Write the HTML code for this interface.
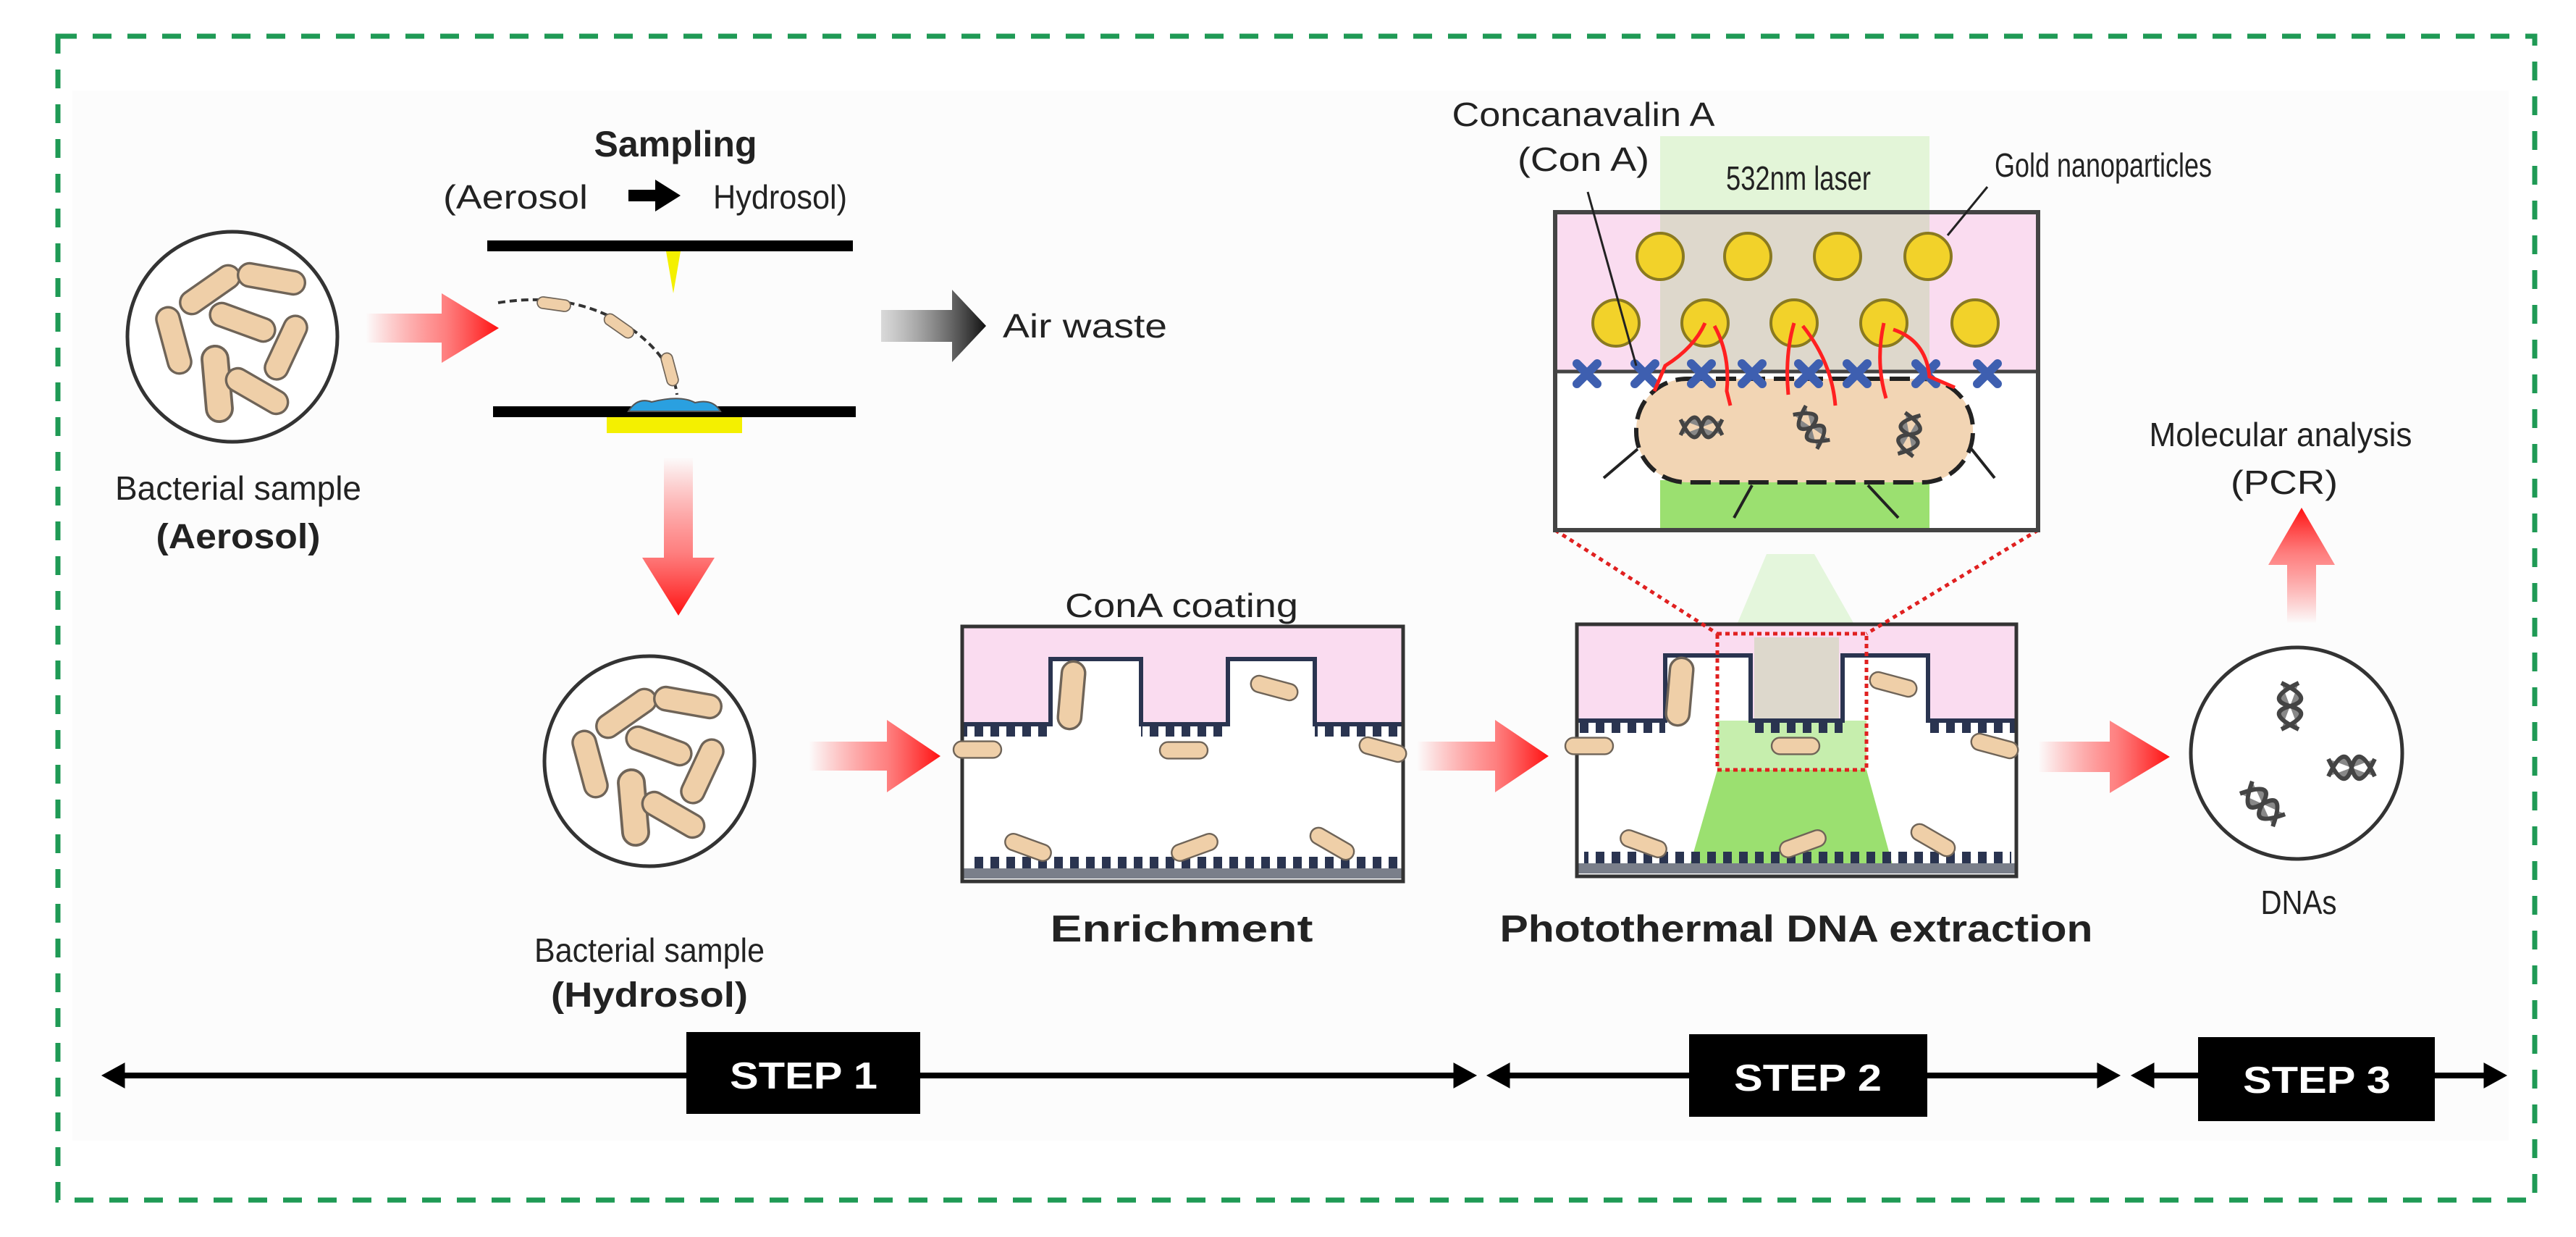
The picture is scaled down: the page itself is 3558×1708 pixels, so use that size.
<!DOCTYPE html>
<html><head><meta charset="utf-8"><style>
html,body{margin:0;padding:0;background:#fff;}
svg{display:block;}
text{font-family:"Liberation Sans",Arial,sans-serif;fill:#222;}
</style></head><body>
<svg width="3558" height="1708" viewBox="0 0 3558 1708" xmlns="http://www.w3.org/2000/svg">
<defs>
<linearGradient id="rr" x1="0" x2="1" y1="0" y2="0"><stop offset="0" stop-color="#ff2020" stop-opacity="0"/><stop offset="0.6" stop-color="#ff4a4a" stop-opacity="0.7"/><stop offset="1" stop-color="#ff1010"/></linearGradient>
<linearGradient id="rd" x1="0" x2="0" y1="0" y2="1"><stop offset="0" stop-color="#ff2020" stop-opacity="0"/><stop offset="0.6" stop-color="#ff4a4a" stop-opacity="0.7"/><stop offset="1" stop-color="#ff1010"/></linearGradient>
<linearGradient id="ru" x1="0" x2="0" y1="1" y2="0"><stop offset="0" stop-color="#ff2020" stop-opacity="0"/><stop offset="0.6" stop-color="#ff4a4a" stop-opacity="0.7"/><stop offset="1" stop-color="#ff1010"/></linearGradient>
<linearGradient id="gk" x1="0" x2="1" y1="0" y2="0"><stop offset="0" stop-color="#888" stop-opacity="0.3"/><stop offset="1" stop-color="#111"/></linearGradient>
<g id="rod"><rect x="-55" y="-19" width="110" height="38" rx="19" fill="#efcfa8" stroke="#6f6458" stroke-width="4"/></g>
<g id="dna"><path d="M-12,-32 C22,-16 22,-6 0,0 C-22,6 -22,16 12,32 M12,-32 C-22,-16 -22,-6 0,0 C22,6 22,16 -12,32" stroke="#444" stroke-width="6" fill="#888"/></g>
<g id="cona"><path d="M-14,-14 L14,14 M14,-14 L-14,14" stroke="#3e5fb0" stroke-width="12" stroke-linecap="round"/></g>
<pattern id="teeth" width="22" height="20" patternUnits="userSpaceOnUse"><rect x="4" y="0" width="12" height="20" fill="#2a3450"/></pattern>
</defs>

<rect x="100" y="125" width="3365" height="1450" fill="#fcfcfc"/>
<rect x="80" y="50" width="3421" height="1607" fill="none" stroke="#1f9a55" stroke-width="7" stroke-dasharray="26,22"/>

<!-- aerosol circle -->
<circle cx="321" cy="465" r="145" fill="#fff" stroke="#333" stroke-width="5"/>
<use href="#rod" transform="translate(290,400) rotate(-35) scale(0.85)"/>
<use href="#rod" transform="translate(375,385) rotate(10) scale(0.85)"/>
<use href="#rod" transform="translate(335,445) rotate(20) scale(0.85)"/>
<use href="#rod" transform="translate(240,470) rotate(75) scale(0.85)"/>
<use href="#rod" transform="translate(300,530) rotate(85) scale(0.95)"/>
<use href="#rod" transform="translate(355,540) rotate(30) scale(0.85)"/>
<use href="#rod" transform="translate(395,480) rotate(-65) scale(0.85)"/>
<text x="329" y="690" font-size="46" text-anchor="middle" textLength="340" lengthAdjust="spacingAndGlyphs">Bacterial sample</text>
<text x="329" y="757" font-size="48" font-weight="bold" text-anchor="middle" textLength="227" lengthAdjust="spacingAndGlyphs">(Aerosol)</text>

<path d="M505,433 L610,433 L610,405 L689,453 L610,501 L610,473 L505,473 Z" fill="url(#rr)"/>

<!-- sampling -->
<text x="933" y="216" font-size="50" font-weight="bold" text-anchor="middle">Sampling</text>
<text x="612" y="288" font-size="46" textLength="200" lengthAdjust="spacingAndGlyphs">(Aerosol</text>
<path d="M868,262 L905,262 L905,248 L940,270 L905,292 L905,278 L868,278 Z" fill="#000"/>
<text x="985" y="288" font-size="46" textLength="185" lengthAdjust="spacingAndGlyphs">Hydrosol)</text>
<rect x="673" y="332" width="505" height="15" fill="#000"/>
<rect x="681" y="561" width="501" height="15" fill="#000"/>
<path d="M920,347 L940,347 L930,405 Z" fill="#f4f000"/>
<rect x="838" y="576" width="187" height="22" fill="#f4f000"/>
<path d="M868,568 Q880,548 900,555 Q940,545 960,556 Q985,550 995,568 Z" fill="#2aa0e0" stroke="#555" stroke-width="2"/>
<path d="M688,418 Q800,400 880,460 Q930,500 935,545" fill="none" stroke="#333" stroke-width="4" stroke-dasharray="10,6"/>
<use href="#rod" transform="translate(765,420) rotate(8) scale(0.42)"/>
<use href="#rod" transform="translate(855,450) rotate(35) scale(0.42)"/>
<use href="#rod" transform="translate(925,510) rotate(75) scale(0.42)"/>

<path d="M1217,428 L1315,428 L1315,400 L1362,450 L1315,500 L1315,472 L1217,472 Z" fill="url(#gk)"/>
<text x="1385" y="466" font-size="46" textLength="227" lengthAdjust="spacingAndGlyphs">Air waste</text>

<path d="M917,631 L957,631 L957,770 L987,770 L937,850 L887,770 L917,770 Z" fill="url(#rd)"/>

<!-- hydrosol circle -->
<circle cx="897" cy="1051" r="145" fill="#fff" stroke="#333" stroke-width="5"/>
<use href="#rod" transform="translate(865,985) rotate(-35) scale(0.85)"/>
<use href="#rod" transform="translate(950,970) rotate(10) scale(0.85)"/>
<use href="#rod" transform="translate(910,1030) rotate(20) scale(0.85)"/>
<use href="#rod" transform="translate(815,1055) rotate(75) scale(0.85)"/>
<use href="#rod" transform="translate(875,1115) rotate(85) scale(0.95)"/>
<use href="#rod" transform="translate(930,1125) rotate(30) scale(0.85)"/>
<use href="#rod" transform="translate(970,1065) rotate(-65) scale(0.85)"/>
<text x="897" y="1328" font-size="46" text-anchor="middle" textLength="318" lengthAdjust="spacingAndGlyphs">Bacterial sample</text>
<text x="897" y="1390" font-size="48" font-weight="bold" text-anchor="middle" textLength="272" lengthAdjust="spacingAndGlyphs">(Hydrosol)</text>

<path d="M1117,1024 L1225,1024 L1225,994 L1299,1044 L1225,1094 L1225,1064 L1117,1064 Z" fill="url(#rr)"/>

<!-- Enrichment box -->
<text x="1632" y="852" font-size="46" text-anchor="middle" textLength="322" lengthAdjust="spacingAndGlyphs">ConA coating</text>
<rect x="1329" y="865" width="609" height="352" fill="#fff"/>
<path d="M1329,865 L1938,865 L1938,1000 L1816,1000 L1816,910 L1696,910 L1696,1000 L1576,1000 L1576,910 L1451,910 L1451,1000 L1329,1000 Z" fill="#fadcf0"/>
<path d="M1329,1000 L1451,1000 L1451,910 L1576,910 L1576,1000 L1696,1000 L1696,910 L1816,910 L1816,1000 L1938,1000" fill="none" stroke="#2a3450" stroke-width="6"/>
<rect x="1329" y="1003" width="122" height="14" fill="url(#teeth)"/>
<rect x="1576" y="1003" width="120" height="14" fill="url(#teeth)"/>
<rect x="1816" y="1003" width="122" height="14" fill="url(#teeth)"/>
<rect x="1340" y="1183" width="590" height="16" fill="url(#teeth)"/>
<rect x="1329" y="1199" width="609" height="14" fill="#7a7f8a"/>
<rect x="1329" y="865" width="609" height="352" fill="none" stroke="#333" stroke-width="5"/>
<use href="#rod" transform="translate(1480,960) rotate(-85) scale(0.85)"/>
<use href="#rod" transform="translate(1760,950) rotate(15) scale(0.6)"/>
<use href="#rod" transform="translate(1635,1036) scale(0.6)"/>
<use href="#rod" transform="translate(1350,1035) scale(0.6)"/>
<use href="#rod" transform="translate(1910,1035) rotate(15) scale(0.6)"/>
<use href="#rod" transform="translate(1420,1170) rotate(20) scale(0.6)"/>
<use href="#rod" transform="translate(1650,1170) rotate(-20) scale(0.6)"/>
<use href="#rod" transform="translate(1840,1165) rotate(30) scale(0.6)"/>
<text x="1632" y="1300" font-size="52" font-weight="bold" text-anchor="middle" textLength="363" lengthAdjust="spacingAndGlyphs">Enrichment</text>

<path d="M1957,1024 L2065,1024 L2065,994 L2139,1044 L2065,1094 L2065,1064 L1957,1064 Z" fill="url(#rr)"/>

<!-- Photothermal box -->
<path d="M2440,765 L2506,765 L2560,860 L2400,860 Z" fill="#e4f6dc"/>
<rect x="2178" y="862" width="607" height="348" fill="#fff"/>
<path d="M2178,862 L2785,862 L2785,995 L2663,995 L2663,905 L2545,905 L2545,995 L2418,995 L2418,905 L2300,905 L2300,995 L2178,995 Z" fill="#fadcf0"/>
<rect x="2423" y="880" width="117" height="115" fill="#ddd8cc"/>
<path d="M2372,1063 L2578,1063 L2617,1205 L2331,1205 Z" fill="#9be070"/>
<rect x="2372" y="995" width="206" height="68" fill="#b8ea98" opacity="0.8"/>
<path d="M2178,995 L2300,995 L2300,905 L2418,905 L2418,995 L2545,995 L2545,905 L2663,905 L2663,995 L2785,995" fill="none" stroke="#2a3450" stroke-width="6"/>
<rect x="2178" y="998" width="122" height="14" fill="url(#teeth)"/>
<rect x="2418" y="998" width="127" height="14" fill="url(#teeth)"/>
<rect x="2663" y="998" width="122" height="14" fill="url(#teeth)"/>
<rect x="2188" y="1176" width="590" height="16" fill="url(#teeth)"/>
<rect x="2178" y="1192" width="607" height="14" fill="#7a7f8a"/>
<rect x="2178" y="862" width="607" height="348" fill="none" stroke="#333" stroke-width="5"/>
<use href="#rod" transform="translate(2320,955) rotate(-85) scale(0.85)"/>
<use href="#rod" transform="translate(2615,945) rotate(15) scale(0.6)"/>
<use href="#rod" transform="translate(2480,1030) scale(0.6)"/>
<use href="#rod" transform="translate(2195,1030) scale(0.6)"/>
<use href="#rod" transform="translate(2755,1030) rotate(15) scale(0.6)"/>
<use href="#rod" transform="translate(2270,1165) rotate(20) scale(0.6)"/>
<use href="#rod" transform="translate(2490,1165) rotate(-20) scale(0.6)"/>
<use href="#rod" transform="translate(2670,1160) rotate(30) scale(0.6)"/>
<rect x="2372" y="875" width="206" height="188" fill="none" stroke="#e02020" stroke-width="5" stroke-dasharray="6,5"/>
<path d="M2148,732 L2372,875 M2815,732 L2578,875" stroke="#e02020" stroke-width="5" stroke-dasharray="6,6"/>
<text x="2481" y="1300" font-size="52" font-weight="bold" text-anchor="middle" textLength="819" lengthAdjust="spacingAndGlyphs">Photothermal DNA extraction</text>

<!-- zoomed inset -->
<rect x="2293" y="188" width="372" height="105" fill="#e3f5d8"/>
<rect x="2148" y="293" width="667" height="220" fill="#fadcf0"/>
<rect x="2293" y="293" width="372" height="220" fill="#ded8cc"/>
<rect x="2148" y="513" width="667" height="219" fill="#fff"/>
<rect x="2293" y="663" width="372" height="69" fill="#9be070"/>
<rect x="2260" y="523" width="465" height="143" rx="70" fill="#f2d5b4" stroke="#222" stroke-width="6" stroke-dasharray="28,12"/>
<g fill="#f2d22a" stroke="#8a7a20" stroke-width="4">
<circle cx="2293" cy="354" r="32"/><circle cx="2414" cy="354" r="32"/><circle cx="2538" cy="354" r="32"/><circle cx="2663" cy="354" r="32"/>
<circle cx="2232" cy="446" r="32"/><circle cx="2355" cy="446" r="32"/><circle cx="2478" cy="446" r="32"/><circle cx="2602" cy="446" r="32"/><circle cx="2728" cy="446" r="32"/>
</g>
<line x1="2148" y1="513" x2="2815" y2="513" stroke="#444" stroke-width="5"/>
<g>
<use href="#cona" x="2192" y="516"/><use href="#cona" x="2272" y="516"/><use href="#cona" x="2350" y="516"/><use href="#cona" x="2420" y="516"/><use href="#cona" x="2498" y="516"/><use href="#cona" x="2565" y="516"/><use href="#cona" x="2660" y="516"/><use href="#cona" x="2745" y="516"/>
</g>
<g stroke="#ff2020" stroke-width="5" fill="none">
<path d="M2355,446 Q2340,480 2300,505 L2285,540"/>
<path d="M2368,450 Q2390,490 2385,540 L2390,560"/>
<path d="M2478,446 Q2465,490 2470,545"/>
<path d="M2490,450 Q2530,500 2535,560"/>
<path d="M2602,446 Q2590,500 2605,550"/>
<path d="M2615,455 Q2660,470 2665,520 L2700,535"/>
</g>
<use href="#dna" transform="translate(2350,590) rotate(90) scale(0.9)"/>
<use href="#dna" transform="translate(2502,590) rotate(-35) scale(0.9)"/>
<use href="#dna" transform="translate(2637,600) rotate(10) scale(0.9)"/>
<g stroke="#222" stroke-width="4" fill="#222">
<line x1="2262" y1="620" x2="2215" y2="660"/><line x1="2723" y1="620" x2="2755" y2="660"/>
<line x1="2420" y1="670" x2="2395" y2="715"/><line x1="2580" y1="670" x2="2622" y2="715"/>
</g>
<rect x="2148" y="293" width="667" height="439" fill="none" stroke="#444" stroke-width="6"/>
<line x1="2193" y1="265" x2="2260" y2="505" stroke="#222" stroke-width="3"/>
<line x1="2745" y1="258" x2="2690" y2="325" stroke="#222" stroke-width="3"/>
<text x="2187" y="174" font-size="46" text-anchor="middle" textLength="363" lengthAdjust="spacingAndGlyphs">Concanavalin A</text>
<text x="2187" y="236" font-size="46" text-anchor="middle" textLength="182" lengthAdjust="spacingAndGlyphs">(Con A)</text>
<text x="2484" y="262" font-size="46" text-anchor="middle" textLength="200" lengthAdjust="spacingAndGlyphs">532nm laser</text>
<text x="2905" y="244" font-size="46" text-anchor="middle" textLength="300" lengthAdjust="spacingAndGlyphs">Gold nanoparticles</text>

<path d="M2815,1024 L2914,1024 L2914,995 L2997,1045 L2914,1095 L2914,1066 L2815,1066 Z" fill="url(#rr)"/>

<!-- DNA circle -->
<circle cx="3172" cy="1040" r="146" fill="#fff" stroke="#333" stroke-width="5"/>
<use href="#dna" transform="translate(3163,975)"/>
<use href="#dna" transform="translate(3248,1060) rotate(90)"/>
<use href="#dna" transform="translate(3125,1110) rotate(-45)"/>
<text x="3175" y="1262" font-size="46" text-anchor="middle" textLength="105" lengthAdjust="spacingAndGlyphs">DNAs</text>

<path d="M3159,861 L3199,861 L3199,780 L3225,780 L3179,701 L3133,780 L3159,780 Z" fill="url(#ru)"/>
<text x="3150" y="616" font-size="46" text-anchor="middle" textLength="363" lengthAdjust="spacingAndGlyphs">Molecular analysis</text>
<text x="3155" y="682" font-size="46" text-anchor="middle" textLength="148" lengthAdjust="spacingAndGlyphs">(PCR)</text>

<!-- step timeline -->
<g fill="#000" stroke="#000">
<line x1="150" y1="1485" x2="2030" y2="1485" stroke-width="8"/>
<path d="M141,1485 L172,1468 L172,1502 Z"/>
<path d="M2039,1485 L2008,1468 L2008,1502 Z"/>
<line x1="2063" y1="1485" x2="2920" y2="1485" stroke-width="8"/>
<path d="M2054,1485 L2085,1468 L2085,1502 Z"/>
<path d="M2928,1485 L2897,1468 L2897,1502 Z"/>
<line x1="2953" y1="1485" x2="3455" y2="1485" stroke-width="8"/>
<path d="M2944,1485 L2975,1468 L2975,1502 Z"/>
<path d="M3462,1485 L3431,1468 L3431,1502 Z"/>
</g>
<rect x="948" y="1425" width="323" height="113" fill="#000"/>
<rect x="2333" y="1428" width="329" height="114" fill="#000"/>
<rect x="3036" y="1432" width="327" height="116" fill="#000"/>
<text x="1110" y="1503" font-size="52" font-weight="bold" text-anchor="middle" textLength="204" lengthAdjust="spacingAndGlyphs" style="fill:#fff">STEP 1</text>
<text x="2497" y="1506" font-size="52" font-weight="bold" text-anchor="middle" textLength="204" lengthAdjust="spacingAndGlyphs" style="fill:#fff">STEP 2</text>
<text x="3200" y="1509" font-size="52" font-weight="bold" text-anchor="middle" textLength="204" lengthAdjust="spacingAndGlyphs" style="fill:#fff">STEP 3</text>
</svg>
</body></html>
